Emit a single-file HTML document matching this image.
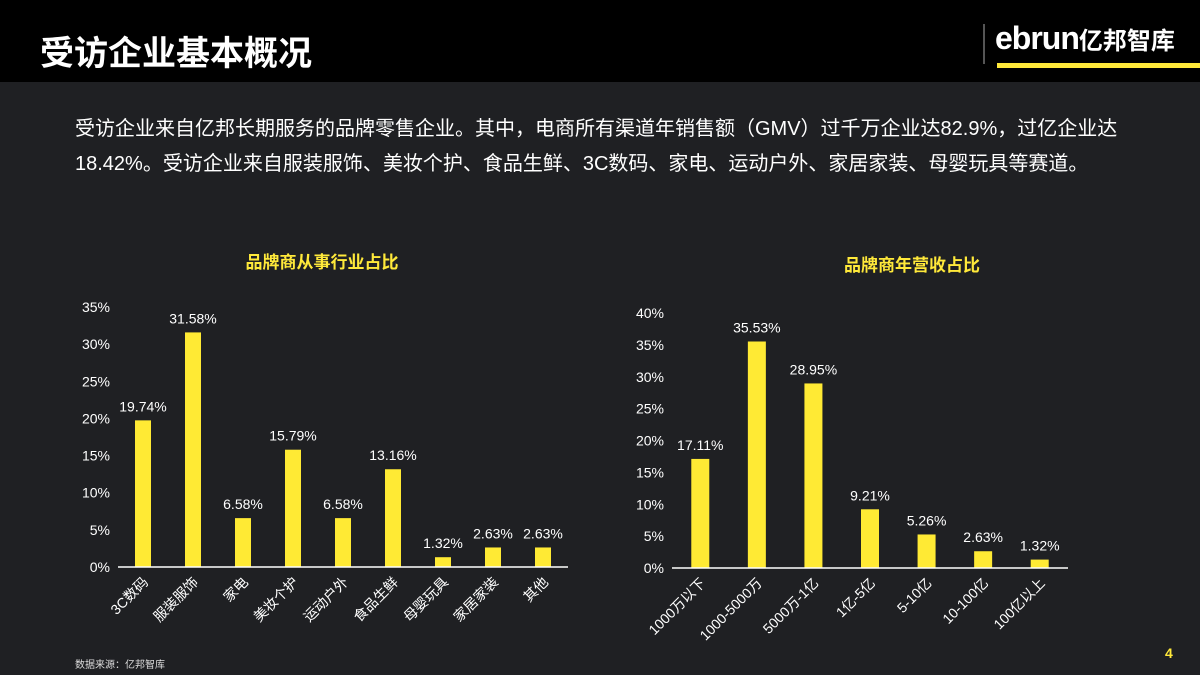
<!DOCTYPE html>
<html><head><meta charset="utf-8">
<style>
html,body{margin:0;padding:0;}
body{width:1200px;height:675px;overflow:hidden;background:#1f2023;font-family:"Liberation Sans","Noto Sans CJK SC",sans-serif;position:relative;}
#hdr{position:absolute;left:0;top:0;width:1200px;height:82px;background:#000;}
#title{position:absolute;left:40px;top:26px;color:#fff;font-size:34px;font-weight:bold;}
#logo-bar{position:absolute;left:983px;top:24px;width:2px;height:40px;background:#555;}
#logo{position:absolute;left:995px;top:20px;color:#fff;font-size:32px;font-weight:bold;letter-spacing:-1px;}
#logo small{font-size:24px;letter-spacing:0}
#logo-line{position:absolute;left:997px;top:63px;width:203px;height:5px;background:#ffe93a;}
#para{position:absolute;left:75px;top:112px;width:1140px;color:#fff;font-size:20px;line-height:35px;white-space:nowrap;}
#src{position:absolute;left:75px;top:656px;color:#ddd;font-size:10px;}
#pg{position:absolute;left:1165px;top:645px;color:#ffe93a;font-size:14px;font-weight:bold;}
svg{position:absolute;left:0;top:0;}
</style></head>
<body>
<div id="hdr"></div>
<div id="title">受访企业基本概况</div>
<div id="logo-bar"></div>
<div id="logo">ebrun<small>亿邦智库</small></div>
<div id="logo-line"></div>
<div id="para">受访企业来自亿邦长期服务的品牌零售企业。其中，电商所有渠道年销售额（GMV）过千万企业达82.9%，过亿企业达<br>18.42%。受访企业来自服装服饰、美妆个护、食品生鲜、3C数码、家电、运动户外、家居家装、母婴玩具等赛道。</div>
<svg id="chart" width="1200" height="675"></svg>
<div id="src">数据来源：亿邦智库</div>
<div id="pg">4</div>
<script>
const cats1 = ["3C数码","服装服饰","家电","美妆个护","运动户外","食品生鲜","母婴玩具","家居家装","其他"];
const vals1 = [19.74,31.58,6.58,15.79,6.58,13.16,1.32,2.63,2.63];
const ticks1 = [0,5,10,15,20,25,30,35];
const cats2 = ["1000万以下","1000-5000万","5000万-1亿","1亿-5亿","5-10亿","10-100亿","100亿以上"];
const vals2 = [17.11,35.53,28.95,9.21,5.26,2.63,1.32];
const ticks2 = [0,5,10,15,20,25,30,35,40];

const NS="http://www.w3.org/2000/svg";
const svg=document.getElementById('chart');
function mk(tag,attrs,text){const e=document.createElementNS(NS,tag);for(const k in attrs)e.setAttribute(k,attrs[k]);if(text!==undefined)e.textContent=text;svg.appendChild(e);return e;}

function drawChart(o){
  const y=v=>o.y0-(v/o.max)*(o.y0-o.yTop);
  const step=(o.x1-o.x0)/o.cats.length;
  const x=i=>o.x0+step*(i+0.5);
  let t=mk('text',{x:o.titleX,y:o.titleY,fill:'#ffe93a','font-size':17,'font-weight':'bold','text-anchor':'middle'},o.title);
  
  
  o.ticks.forEach(v=>{
    const l=mk('text',{x:o.x0-8,y:y(v)+5,fill:'#fff','font-size':14,'text-anchor':'end'},v+'%');
    
    
  });
  o.vals.forEach((v,i)=>{
    const r=mk('rect',{x:x(i)-o.bw/2,y:y(v),width:o.bw,height:o.y0-y(v),fill:'#ffea34'});
    
    
    const lb=mk('text',{x:x(i),y:y(v)-9,fill:'#fff','font-size':14,'text-anchor':'middle'},v.toFixed(2)+'%');
    
    
    const cx=x(i)+6, cy=o.y0+16;
    const c=mk('text',{x:cx,y:cy,fill:'#fff','font-size':14,'text-anchor':'end',transform:`rotate(-45 ${cx} ${cy})`},o.cats[i]);
    
    
  });
  const ax=mk('line',{x1:o.x0,y1:o.y0,x2:o.x1,y2:o.y0,stroke:'#fff','stroke-width':1.5});
  
  
}
drawChart({key:'industry',cats:cats1,vals:vals1,ticks:ticks1,max:35,x0:118,x1:568,y0:567,yTop:307,bw:16,title:'品牌商从事行业占比',titleX:322,titleY:268});
drawChart({key:'revenue',cats:cats2,vals:vals2,ticks:ticks2,max:40,x0:672,x1:1068,y0:568,yTop:313,bw:18,title:'品牌商年营收占比',titleX:912,titleY:271});
</script>
</body></html>
